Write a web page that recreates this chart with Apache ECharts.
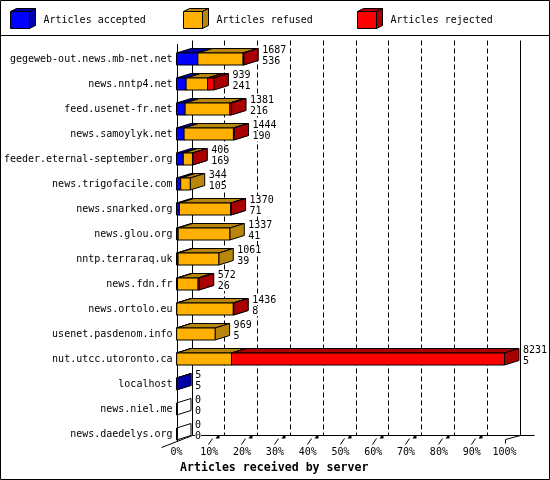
<!DOCTYPE html>
<html>
<head>
<meta charset="utf-8">
<script src="https://cdn.jsdelivr.net/npm/echarts@6/dist/echarts.min.js"></script>
<style>html,body{margin:0;padding:0;background:#fff}#c{width:550px;height:480px}</style>
</head>
<body>
<div id="c"></div>
<script>
var categories = ['gegeweb-out.news.mb-net.net','news.nntp4.net','feed.usenet-fr.net','news.samoylyk.net','feeder.eternal-september.org','news.trigofacile.com','news.snarked.org','news.glou.org','nntp.terraraq.uk','news.fdn.fr','news.ortolo.eu','usenet.pasdenom.info','nut.utcc.utoronto.ca','localhost','news.niel.me','news.daedelys.org'];
var totals   = [1687, 939, 1381, 1444, 406, 344, 1370, 1337, 1061, 572, 1436, 969, 8231, 5, 0, 0];
var accepted = [536, 241, 216, 190, 169, 105, 71, 41, 39, 26, 8, 5, 5, 5, 0, 0];
var refused  = [1136, 540, 1125, 1239, 232, 239, 1294, 1296, 1022, 516, 1418, 964, 1375, 0, 0, 0];
var rejected = [15, 158, 40, 15, 5, 0, 5, 0, 0, 30, 10, 0, 6851, 0, 0, 0];
var percentTicks = [0,10,20,30,40,50,60,70,80,90,100];
var seriesNames = ['Articles accepted','Articles refused','Articles rejected'];

var FONT = '"DejaVu Sans Mono", monospace';
var DX = 14.5, DY = -4.5;
var WX = 15;
var colors = [['#0000ff','#0000a8'],['#ffb000','#b8860b'],['#ff0000','#aa0000']];
var maxTotal = Math.max.apply(null, totals);
var segs = [accepted, refused, rejected];

function pct(v){ return v / maxTotal * 100; }

var segData = [[],[],[]];
categories.forEach(function(c, i){
  var cum = 0;
  for (var k = 0; k < 3; k++) {
    var p = pct(segs[k][i]);
    segData[k].push([cum, i, cum + p, segs[k][i], totals[i]]);
    cum += p;
  }
});

function barRender(k){
  return function(params, api){
    var s = api.value(0), cat = api.value(1), e = api.value(2);
    var raw = api.value(3), tot = api.value(4);
    var a = api.coord([s, cat]), b = api.coord([e, cat]);
    var x0 = a[0], x1 = b[0], yT = a[1] - 6, yB = a[1] + 6;
    var ln = {stroke:'#000', lineWidth:1};
    if (tot === 0) {
      if (k !== 0) return;
      return {type:'polygon', shape:{points:[[x0,yT],[x0+DX,yT+DY],[x0+DX,yB+DY],[x0,yB]]},
        style:{fill:'none', stroke:'#000', lineWidth:1}};
    }
    if (raw === 0) return;
    return {type:'group', children:[
      {type:'polygon', shape:{points:[[x0,yT],[x1,yT],[x1+DX,yT+DY],[x0+DX,yT+DY]]},
        style:Object.assign({fill:colors[k][1]}, ln)},
      {type:'polygon', shape:{points:[[x1,yT],[x1+DX,yT+DY],[x1+DX,yB+DY],[x1,yB]]},
        style:Object.assign({fill:colors[k][1]}, ln)},
      {type:'rect', shape:{x:x0, y:yT, width:x1-x0, height:yB-yT},
        style:Object.assign({fill:colors[k][0]}, ln)}
    ]};
  };
}

function wallRender(params, api){
  var ch = [];
  var yTop = 40.5, yBack = 435.5, yFront = 441.5;
  var xs = percentTicks.map(function(v){ return Math.round(api.coord([v, 0])[0]) + 0.5; });
  var x0 = xs[0], x100 = xs[xs.length-1];
  var st = {stroke:'#000', lineWidth:1, fill:'none'};
  percentTicks.forEach(function(v, j){
    if (v === 0 || v === 100) return;
    ch.push({type:'line', shape:{x1:xs[j]+WX, y1:yTop, x2:xs[j]+WX, y2:yBack},
      style:{stroke:'#000', lineWidth:1, lineDash:[5,3]}});
    ch.push({type:'line', shape:{x1:xs[j]-1, y1:yFront+3, x2:xs[j]+3, y2:yFront-3}, style:st});
    ch.push({type:'polygon', shape:{points:[[xs[j]+6,yBack+3],[xs[j]+10,yBack+3],[xs[j]+10,yBack],[xs[j]+8,yBack]]},
      style:{fill:'#000'}});
  });
  ch.push({type:'line', shape:{x1:x0+WX, y1:yTop, x2:x0+WX, y2:yBack}, style:st});
  ch.push({type:'line', shape:{x1:x100+WX, y1:yTop, x2:x100+WX, y2:yBack}, style:st});
  ch.push({type:'line', shape:{x1:x0+WX, y1:yBack, x2:x100+WX+14, y2:yBack}, style:st});
  ch.push({type:'line', shape:{x1:x0-16, y1:yFront+6, x2:x0+WX, y2:yBack}, style:st});
  ch.push({type:'line', shape:{x1:x100, y1:yFront-2, x2:x100+WX, y2:yBack}, style:st});
  ch.push({type:'line', shape:{x1:x100, y1:yFront-2, x2:x100, y2:yFront+2}, style:st});
  ch.push({type:'line', shape:{x1:x0, y1:44, x2:x0, y2:yFront}, style:st});
  return {type:'group', children:ch};
}

function labelRender(params, api){
  var cat = api.value(1), tot = api.value(0), acc = api.value(2);
  var p = api.coord([pct(tot), cat]);
  var x = p[0] + DX + 4;
  return {type:'group', children:[
    {type:'text', style:{text:String(tot), x:x, y:p[1]-9, font:'10px ' + FONT, fill:'#000', verticalAlign:'middle', align:'left', backgroundColor:'#fff'}},
    {type:'text', style:{text:String(acc), x:x, y:p[1]+2, font:'10px ' + FONT, fill:'#000', verticalAlign:'middle', align:'left', backgroundColor:'#fff'}}
  ]};
}

var chart = echarts.init(document.getElementById('c'), null, {renderer:'canvas'});

var legendLefts = [10, 183, 357];
var legends = seriesNames.map(function(n, k){
  return {data:[n], left:legendLefts[k], top:11, padding:0, itemWidth:19, itemHeight:17, icon:'rect',
    selectedMode:false,
    itemStyle:{borderColor:'#000', borderWidth:1},
    textStyle:{fontFamily:FONT, fontSize:10, color:'#000', padding:[0,0,0,9]}};
});

var legendGraphics = [];
legendLefts.forEach(function(lx, k){
  var x0 = lx + 0.5, x1 = lx + 19.5, y0 = 11.5, y1 = 28.5;
  legendGraphics.push({type:'polygon', shape:{points:[[x0,y0],[x1,y0],[x1+6,y0-3],[x0+6,y0-3]]},
    style:{fill:colors[k][1], stroke:'#000', lineWidth:1}});
  legendGraphics.push({type:'polygon', shape:{points:[[x1,y0],[x1+6,y0-3],[x1+6,y1-3],[x1,y1]]},
    style:{fill:colors[k][1], stroke:'#000', lineWidth:1}});
});

var series = [{
  type:'custom', name:'wall', silent:true, clip:false, z:1,
  data:[[0,0]], encode:{x:0, y:1}, renderItem:wallRender
}];
for (var k = 0; k < 3; k++) {
  series.push({type:'custom', name:seriesNames[k], clip:false, z:2,
    itemStyle:{color:colors[k][0], borderColor:'#000', borderWidth:1},
    data:segData[k], encode:{x:[0,2], y:1}, renderItem:barRender(k)});
}
series.push({type:'custom', name:'labels', silent:true, clip:false, z:3,
  data:categories.map(function(c,i){ return [totals[i], i, accepted[i]]; }),
  encode:{x:0, y:1}, renderItem:labelRender});

chart.setOption({
  animation:false,
  backgroundColor:'#fff',
  title:{text:'Articles received by server', left:180, top:462, padding:0,
    textStyle:{fontFamily:FONT, fontSize:11.6, fontWeight:'bold', color:'#000'}},
  legend:legends,
  grid:{left:176.5, width:328, top:46.5, height:400},
  xAxis:{type:'value', min:0, max:100, interval:10,
    axisLine:{show:false}, axisTick:{show:false}, splitLine:{show:false},
    axisLabel:{formatter:'{value}%', fontFamily:FONT, fontSize:10, color:'#000', margin:1}},
  yAxis:{type:'category', data:categories, inverse:true,
    axisLine:{show:false}, axisTick:{show:false}, splitLine:{show:false},
    axisLabel:{interval:0, fontFamily:FONT, fontSize:10, color:'#000', margin:4}},
  graphic:[
    {type:'rect', shape:{x:0.5, y:0.5, width:549, height:479}, style:{fill:'none', stroke:'#000', lineWidth:1}, z:10},
    {type:'line', shape:{x1:0, y1:35.5, x2:550, y2:35.5}, style:{stroke:'#000', lineWidth:1}, z:10}
  ].concat(legendGraphics),
  series:series
});
</script>
</body>
</html>
